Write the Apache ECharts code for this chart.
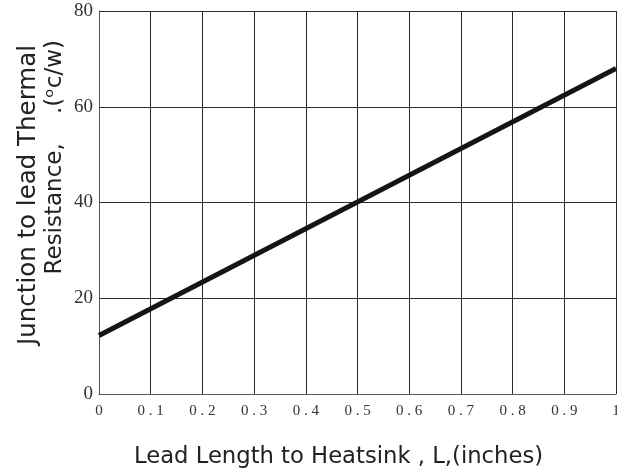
<!DOCTYPE html>
<html>
<head>
<meta charset="utf-8">
<script src="https://cdn.jsdelivr.net/npm/echarts@6/dist/echarts.min.js"></script>
<style>html,body{margin:0;padding:0;background:#fff}#c{width:617px;height:476px}</style>
</head>
<body>
<div id="c"></div>
<script>
// Data
const leadLength = [0, 1];           // inches
const resistance = [12.2, 68];       // °C/W
const xTicks = [0, 0.1, 0.2, 0.3, 0.4, 0.5, 0.6, 0.7, 0.8, 0.9, 1];
const yTicks = [0, 20, 40, 60, 80];
const xTitle = 'Lead Length to Heatsink , L,(inches)';
const yTitle1 = 'Junction to lead Thermal';
const yTitle2 = 'Resistance,    .(\u1D52c/w)';

const chart = echarts.init(document.getElementById('c'), null, {renderer: 'canvas'});
const gridColor = '#2a2a2a';
const titleFont = '"DejaVu Sans", sans-serif';
chart.setOption({
  animation: false,
  backgroundColor: '#fff',
  grid: {left: 99, right: 1, top: 11, bottom: 82, containLabel: false, outerBoundsMode: 'none'},
  xAxis: {
    type: 'value',
    min: xTicks[0], max: xTicks[xTicks.length - 1], interval: 0.1,
    axisLine: {show: true, lineStyle: {color: '#555', width: 1}},
    axisTick: {show: false},
    splitLine: {show: true, lineStyle: {color: gridColor, width: 1}},
    axisLabel: {
      margin: 10,
      color: '#333',
      fontFamily: 'Liberation Serif',
      fontSize: 15,
      formatter: v => String(Math.round(v * 10) / 10).split('').join(' ')
    }
  },
  yAxis: {
    type: 'value',
    min: yTicks[0], max: yTicks[yTicks.length - 1], interval: 20,
    axisLine: {show: true, lineStyle: {color: '#555', width: 1}},
    axisTick: {show: false},
    splitLine: {show: true, lineStyle: {color: gridColor, width: 1}},
    axisLabel: {
      margin: 6,
      color: '#333',
      fontFamily: 'Liberation Serif',
      fontSize: 19
    }
  },
  series: [{
    type: 'line',
    data: leadLength.map((x, i) => [x, resistance[i]]),
    symbol: 'none',
    lineStyle: {color: '#151515', width: 5},
    z: 5
  }],
  graphic: [
    {
      type: 'text', x: 338.5, y: 457,
      style: {text: xTitle, font: '22.7px ' + titleFont, fill: '#222', align: 'center', verticalAlign: 'middle'}
    },
    {
      type: 'text', x: 29, y: 45, rotation: Math.PI / 2,
      style: {text: yTitle1, font: '24.5px ' + titleFont, fill: '#222',
              align: 'right', verticalAlign: 'middle'}
    },
    {
      type: 'text', x: 55, y: 40, rotation: Math.PI / 2,
      style: {text: yTitle2, font: '23px ' + titleFont, fill: '#222',
              align: 'right', verticalAlign: 'middle'}
    }
  ]
});
</script>
</body>
</html>
